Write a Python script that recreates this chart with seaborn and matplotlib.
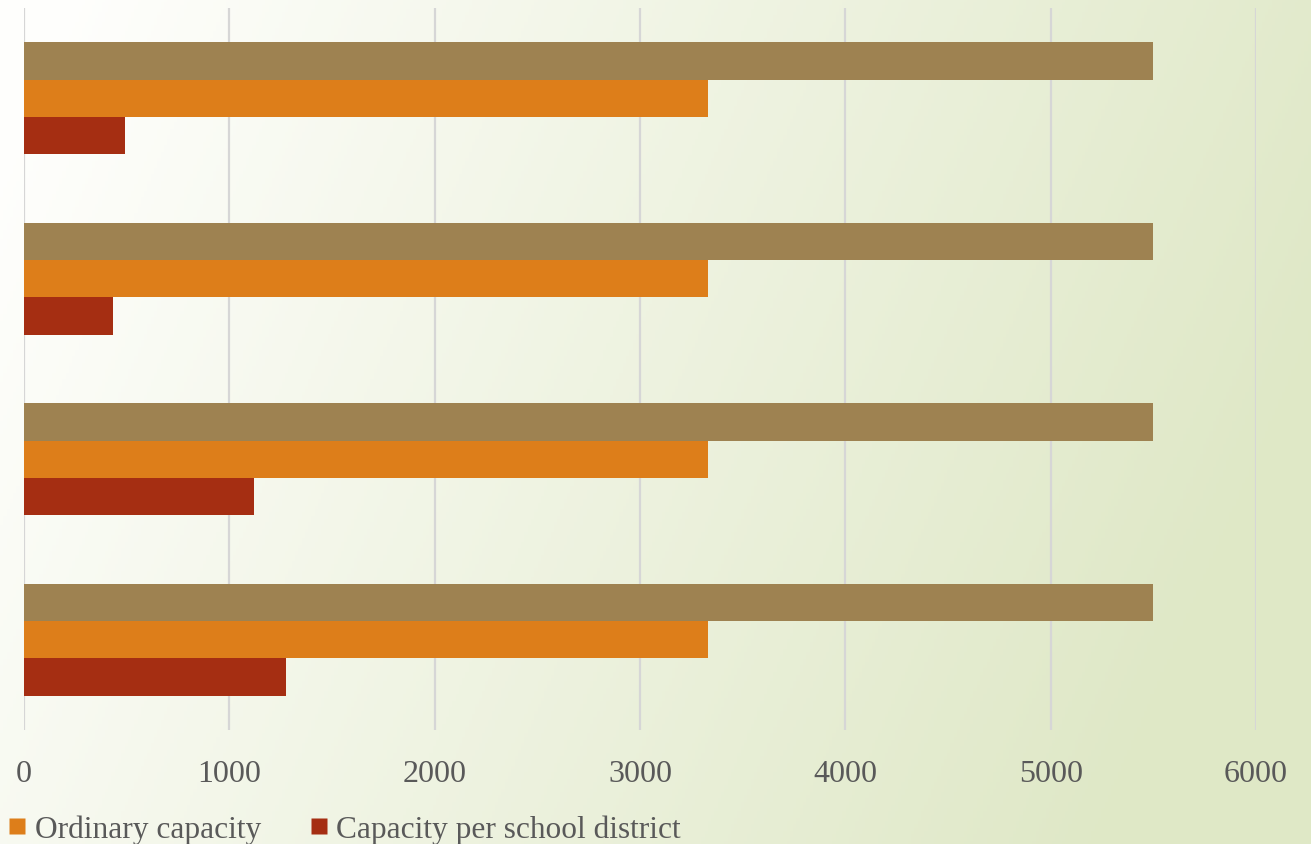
import numpy as np
import pandas as pd
import matplotlib
matplotlib.use("Agg")
import matplotlib.pyplot as plt
from matplotlib.lines import Line2D
import seaborn as sns

# data
districts = ["District 1", "District 2", "District 3", "District 4"]
series = ["Total capacity", "Ordinary capacity", "Capacity per school district"]
total_capacity = [5500, 5500, 5500, 5500]
ordinary_capacity = [3330, 3330, 3330, 3330]
per_district = [490, 435, 1120, 1275]

colors = ["#9e8251", "#dd7e1a", "#a52e12"]

df = pd.DataFrame({
    "district": districts * 3,
    "series": [series[0]] * 4 + [series[1]] * 4 + [series[2]] * 4,
    "value": total_capacity + ordinary_capacity + per_district,
})

sns.set_style("white")
plt.rcParams["font.family"] = ["Liberation Serif", "DejaVu Serif"]

fig = plt.figure(figsize=(13.11, 8.45), dpi=100)

# gradient background: white top-left to pale green bottom-right
bg = fig.add_axes([0, 0, 1, 1], zorder=-10)
xx, yy = np.meshgrid(np.linspace(0, 1, 400), np.linspace(0, 1, 260))
t = np.clip((0.9 * xx + 0.25 * yy - 0.05) / 0.95, 0, 1)
c0 = np.array([0.998, 0.998, 0.99])
c1 = np.array([0.875, 0.91, 0.78])
img = c0[None, None, :] * (1 - t[..., None]) + c1[None, None, :] * t[..., None]
bg.imshow(img, aspect="auto", extent=[0, 1, 0, 1], origin="upper")
bg.axis("off")

ax = fig.add_axes([0.0183, 0.1349, 0.9398, 0.8544])
ax.patch.set_alpha(0)
sns.barplot(data=df, y="district", x="value", hue="series", orient="h",
            palette=colors, saturation=1, width=0.62, gap=0, dodge=True, ax=ax,
            edgecolor="none", legend=False, zorder=3)

ax.set_xlim(0, 6000)
ax.set_ylim(3.5, -0.5)
ax.set_xticks(range(0, 6001, 1000))
ax.xaxis.grid(True, color="#d6d6d6", linewidth=1.6, zorder=0)
ax.set_axisbelow(True)
for s in ax.spines.values():
    s.set_visible(False)
ax.set_yticks([])
ax.set_xlabel("")
ax.set_ylabel("")
ax.tick_params(axis="x", length=0, pad=21, labelsize=23, labelcolor="#595959")

handles = [Line2D([], [], marker="s", linestyle="none", markersize=11,
                  markerfacecolor=colors[i], markeredgecolor="none")
           for i in (1, 2)]
fig.legend(handles, series[1:], loc="lower left", bbox_to_anchor=(0.006, 0.0),
           frameon=False, fontsize=22.6, labelcolor="#595959", ncol=2,
           handlelength=0.6, handletextpad=0.25, columnspacing=1.55,
           borderaxespad=0, borderpad=0)

fig.savefig("out.png", dpi=100)
